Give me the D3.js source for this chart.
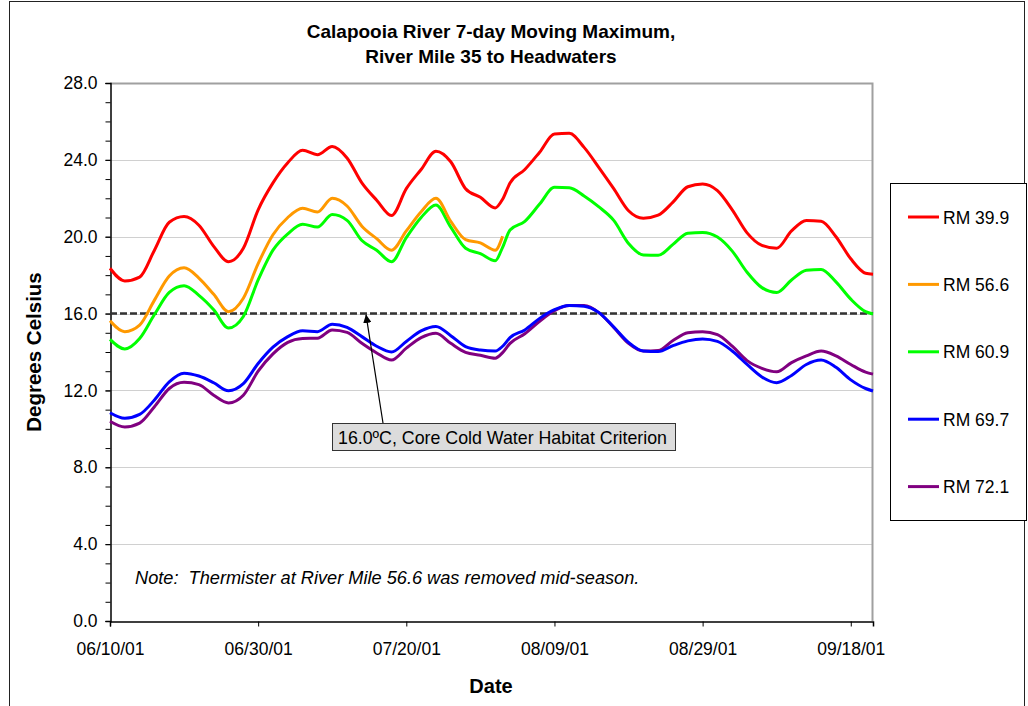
<!DOCTYPE html>
<html>
<head>
<meta charset="utf-8">
<script src="https://cdn.jsdelivr.net/npm/d3@7"></script>
<style>
  body { margin: 0; background: #fff; }
  svg { display: block; font-family: Arial, "Liberation Sans", sans-serif; }
</style>
</head>
<body>
<div class="chart"></div>
<script>
// sample dates (every 2nd day, plus 08/02 where RM 56.6 stops)
var dates = ["06/10/01","06/12/01","06/14/01","06/16/01","06/18/01","06/20/01","06/22/01","06/24/01","06/26/01","06/28/01",
  "06/30/01","07/02/01","07/04/01","07/06/01","07/08/01","07/10/01","07/12/01","07/14/01","07/16/01","07/18/01",
  "07/20/01","07/22/01","07/24/01","07/26/01","07/28/01","07/30/01","08/01/01","08/02/01","08/03/01","08/05/01",
  "08/07/01","08/09/01","08/11/01","08/13/01","08/15/01","08/17/01","08/19/01","08/21/01","08/23/01","08/25/01",
  "08/27/01","08/29/01","08/31/01","09/02/01","09/04/01","09/06/01","09/08/01","09/10/01","09/12/01","09/14/01",
  "09/16/01","09/18/01","09/20/01","09/21/01"];

var rm399 = [18.36,17.7,17.9,19.3,20.75,21.05,20.6,19.5,18.7,19.4,
  21.4,22.8,23.85,24.5,24.27,24.7,24.1,22.8,21.9,21.1,
  22.5,23.5,24.45,23.9,22.5,22.05,21.5,21.95,22.8,23.5,
  24.4,25.35,25.38,24.65,23.6,22.5,21.35,20.96,21.12,21.8,
  22.6,22.75,22.4,21.4,20.2,19.55,19.4,20.3,20.85,20.8,
  20.0,18.85,18.1,18.05];

var rm566 = [15.63,15.06,15.4,16.7,17.95,18.38,17.85,17.0,16.1,16.8,
  18.6,20.1,21.0,21.48,21.28,22.0,21.6,20.55,19.9,19.3,
  20.3,21.3,22.0,20.8,19.85,19.68,19.3,20.03];

var rm609 = [14.66,14.16,14.7,15.95,17.1,17.45,16.95,16.2,15.25,15.85,
  17.75,19.3,20.15,20.65,20.5,21.15,20.85,19.8,19.3,18.7,
  19.95,21.0,21.65,20.5,19.4,19.12,18.75,19.45,20.35,20.8,
  21.7,22.57,22.55,22.12,21.55,20.85,19.65,19.05,19.03,19.6,
  20.18,20.22,19.98,19.25,18.15,17.35,17.1,17.75,18.25,18.3,
  17.65,16.75,16.1,15.98];

var rm697 = [10.84,10.55,10.75,11.5,12.45,12.9,12.75,12.4,11.98,12.35,
  13.4,14.25,14.8,15.1,15.06,15.45,15.28,14.8,14.3,14.0,
  14.55,15.1,15.33,14.85,14.28,14.1,14.05,14.3,14.75,15.15,
  15.75,16.2,16.42,16.38,16.05,15.3,14.5,14.05,14.02,14.33,
  14.58,14.68,14.55,14.05,13.35,12.7,12.4,12.78,13.35,13.58,
  13.2,12.55,12.1,11.97];

var rm721 = [10.4,10.1,10.3,11.15,12.1,12.42,12.3,11.75,11.35,11.75,
  13.0,13.9,14.5,14.7,14.72,15.15,15.02,14.45,13.95,13.58,
  14.2,14.75,14.98,14.45,13.98,13.83,13.68,13.97,14.45,14.95,
  15.6,16.15,16.42,16.42,16.05,15.28,14.45,14.05,14.08,14.6,
  15.0,15.06,14.9,14.3,13.55,13.15,12.97,13.45,13.8,14.05,
  13.8,13.35,12.95,12.85];

var seriesNames = ["RM 39.9", "RM 56.6", "RM 60.9", "RM 69.7", "RM 72.1"];
var seriesColors = ["#ff0000", "#ff9900", "#00ff00", "#0000ff", "#800080"];
var seriesValues = [rm399, rm566, rm609, rm697, rm721];

var xTickLabels = ["06/10/01", "06/30/01", "07/20/01", "08/09/01", "08/29/01", "09/18/01"];
var yTicks = [0, 4, 8, 12, 16, 20, 24, 28];
var criterion = 16.0;

var width = 1028,
    height = 706,
    plotLeft = 110,
    plotRight = 873,
    plotTop = 83,
    plotBottom = 621,
    textSize = 17.5;

var parseDate = d3.timeParse("%m/%d/%y");

var x = d3.scaleTime()
    .domain([parseDate("06/10/01"), parseDate("09/21/01")])
    .range([plotLeft, plotRight]);

var y = d3.scaleLinear()
    .domain([0, 28])
    .range([plotBottom, plotTop]);

var svg = d3.select(".chart").append("svg")
    .attr("width", width)
    .attr("height", height);

// outer chart frame
svg.append("rect")
    .attr("x", 9.5)
    .attr("y", 1.5)
    .attr("width", 1015)
    .attr("height", 740)
    .attr("fill", "none")
    .attr("stroke", "#222")
    .attr("stroke-width", 1);

// gridlines
svg.append("g")
  .selectAll("line")
    .data(yTicks.filter(function(d) { return d > 0 && d < 28; }))
  .enter().append("line")
    .attr("x1", plotLeft)
    .attr("x2", plotRight)
    .attr("y1", function(d) { return Math.round(y(d)) + 0.5; })
    .attr("y2", function(d) { return Math.round(y(d)) + 0.5; })
    .attr("stroke", "#d0d0d0")
    .attr("stroke-width", 1);

// plot frame top / right
svg.append("path")
    .attr("d", "M" + plotLeft + "," + (plotTop + 0.5) + "H" + (plotRight - 0.5) + "V" + plotBottom)
    .attr("fill", "none")
    .attr("stroke", "#a0a0a0")
    .attr("stroke-width", 2);

// y axis
var yAxis = d3.axisLeft(y)
    .tickValues(yTicks)
    .tickSize(5)
    .tickFormat(d3.format(".1f"));

var yAxisG = svg.append("g")
    .attr("transform", "translate(" + (plotLeft + 0.5) + ",0)")
    .call(yAxis);

// minor y ticks
svg.append("g")
    .attr("transform", "translate(" + (plotLeft + 0.5) + ",0)")
    .call(d3.axisLeft(y).ticks(28).tickSize(5).tickFormat(""))
    .call(function(g) { g.select(".domain").remove(); });

// x axis
var xAxis = d3.axisBottom(x)
    .tickValues(xTickLabels.map(parseDate))
    .tickSize(5)
    .tickFormat(d3.timeFormat("%m/%d/%y"));

var xAxisG = svg.append("g")
    .attr("transform", "translate(0," + (plotBottom + 0.5) + ")")
    .call(xAxis);

svg.selectAll(".domain").attr("stroke", "#000").attr("stroke-width", 1.5);
svg.selectAll(".tick line").attr("stroke", "#000");
svg.selectAll(".tick text")
    .attr("font-family", "Arial, 'Liberation Sans', sans-serif")
    .attr("font-size", textSize)
    .attr("fill", "#000");
yAxisG.selectAll(".tick text").attr("x", -13);
xAxisG.selectAll(".tick text").attr("y", 21);

// criterion line
svg.append("line")
    .attr("x1", plotLeft)
    .attr("x2", plotRight)
    .attr("y1", y(criterion))
    .attr("y2", y(criterion))
    .attr("stroke", "#333")
    .attr("stroke-width", 2.6)
    .attr("stroke-dasharray", "7,3");

// data lines
var line = d3.line()
    .defined(function(d) { return d[1] != null; })
    .x(function(d) { return x(d[0]); })
    .y(function(d) { return y(d[1]); })
    .curve(d3.curveMonotoneX);

var lineData = seriesValues.map(function(vals) {
  return vals.map(function(v, i) { return [parseDate(dates[i]), v]; });
});

// draw back to front so red sits on top
svg.append("g")
  .selectAll("path")
    .data(lineData.map(function(d, i) { return {pts: d, i: i}; }).reverse())
  .enter().append("path")
    .attr("d", function(d) { return line(d.pts); })
    .attr("fill", "none")
    .attr("stroke", function(d) { return seriesColors[d.i]; })
    .attr("stroke-width", 3)
    .attr("stroke-linejoin", "round");

// annotation arrow + box
svg.append("defs").append("marker")
    .attr("id", "arrow")
    .attr("viewBox", "0 0 10 10")
    .attr("refX", 10)
    .attr("refY", 5)
    .attr("markerWidth", 7)
    .attr("markerHeight", 7)
    .attr("orient", "auto")
  .append("path")
    .attr("d", "M0,0L10,5L0,10z")
    .attr("fill", "#000");

svg.append("line")
    .attr("x1", 383)
    .attr("y1", 423)
    .attr("x2", 366)
    .attr("y2", y(criterion) + 1)
    .attr("stroke", "#000")
    .attr("stroke-width", 1.2)
    .attr("marker-end", "url(#arrow)");

svg.append("rect")
    .attr("x", 332.5)
    .attr("y", 423.5)
    .attr("width", 343)
    .attr("height", 27)
    .attr("fill", "#dcdcdc")
    .attr("stroke", "#333")
    .attr("stroke-width", 1);

svg.append("text")
    .attr("x", 338)
    .attr("y", 443.5)
    .attr("font-size", 17.8)
    .text("16.0\u00baC, Core Cold Water Habitat Criterion");

// note
svg.append("text")
    .attr("x", 135)
    .attr("y", 584)
    .attr("font-size", 18.2)
    .attr("font-style", "italic")
    .style("white-space", "pre")
    .text("Note:  Thermister at River Mile 56.6 was removed mid-season.");

// titles
svg.append("text")
    .attr("x", 491)
    .attr("y", 38)
    .attr("text-anchor", "middle")
    .attr("font-size", 19)
    .attr("font-weight", "bold")
    .text("Calapooia River 7-day Moving Maximum,");

svg.append("text")
    .attr("x", 491)
    .attr("y", 63)
    .attr("text-anchor", "middle")
    .attr("font-size", 19)
    .attr("font-weight", "bold")
    .text("River Mile 35 to Headwaters");

svg.append("text")
    .attr("transform", "translate(41," + ((plotTop + plotBottom) / 2) + ") rotate(-90)")
    .attr("text-anchor", "middle")
    .attr("font-size", 20.5)
    .attr("font-weight", "bold")
    .text("Degrees Celsius");

svg.append("text")
    .attr("x", 491)
    .attr("y", 693)
    .attr("text-anchor", "middle")
    .attr("font-size", 20)
    .attr("font-weight", "bold")
    .text("Date");

// legend
svg.append("rect")
    .attr("x", 890.5)
    .attr("y", 183.5)
    .attr("width", 136)
    .attr("height", 337)
    .attr("fill", "#fff")
    .attr("stroke", "#000")
    .attr("stroke-width", 1);

var legend = svg.append("g")
  .selectAll("g")
    .data(seriesNames)
  .enter().append("g")
    .attr("transform", function(d, i) { return "translate(0," + (217 + i * 67.4) + ")"; });

legend.append("line")
    .attr("x1", 908)
    .attr("x2", 939)
    .attr("stroke", function(d, i) { return seriesColors[i]; })
    .attr("stroke-width", 3);

legend.append("text")
    .attr("x", 943)
    .attr("y", 6.5)
    .attr("font-size", textSize)
    .text(function(d) { return d; });
</script>
</body>
</html>
